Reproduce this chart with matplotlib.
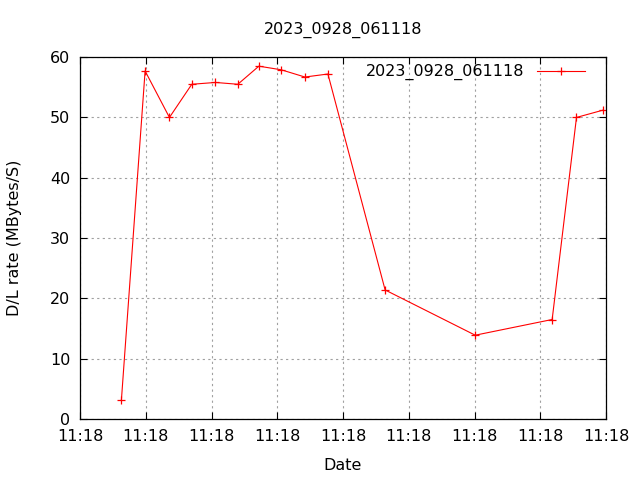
import matplotlib
matplotlib.use("Agg")
import matplotlib.pyplot as plt

# sample times (in tick units) and download rates
x = [0.63, 0.99, 1.36, 1.70, 2.06, 2.40, 2.72, 3.06, 3.42, 3.77,
     4.64, 6.01, 7.18, 7.55, 7.95]
rate = [3.2, 57.7, 50.0, 55.5, 55.8, 55.5, 58.5, 57.9, 56.7, 57.2,
        21.4, 13.9, 16.5, 50.0, 51.2]

xticks = [0, 1, 2, 3, 4, 5, 6, 7, 8]
xtick_labels = ["11:18"] * len(xticks)
yticks = [0, 10, 20, 30, 40, 50, 60]

plt.rcParams['font.family'] = ['DejaVu Sans']
plt.rcParams['font.size'] = 11.5

fig = plt.figure(figsize=(6.4, 4.8), dpi=100)
ax = fig.add_axes([0.125, 0.127, 0.822, 0.754])

ax.plot(x, rate, color='red', linewidth=0.8, marker='+', markersize=6,
        markeredgewidth=0.9, label='2023_0928_061118')

ax.set_xlim(0, 8)
ax.set_ylim(0, 60)
ax.set_xticks(xticks)
ax.set_xticklabels(xtick_labels)
ax.set_yticks(yticks)
ax.tick_params(direction='in', length=5, width=0.8, top=True, right=True, pad=7)
ax.grid(True, color='#a0a0a0', linestyle=(0, (2, 3)), linewidth=0.8)
for s in ax.spines.values():
    s.set_linewidth(0.9)

ax.set_title('2023_0928_061118', fontsize=11.5, pad=17)
ax.set_xlabel('Date', labelpad=10)
ax.set_ylabel('D/L rate (MBytes/S)', labelpad=20)

ax.legend(loc='upper right', frameon=False, markerfirst=False,
          handlelength=3.0, handletextpad=0.8, borderaxespad=0.0,
          bbox_to_anchor=(0.972, 0.998))

fig.savefig('out.png', dpi=100)
